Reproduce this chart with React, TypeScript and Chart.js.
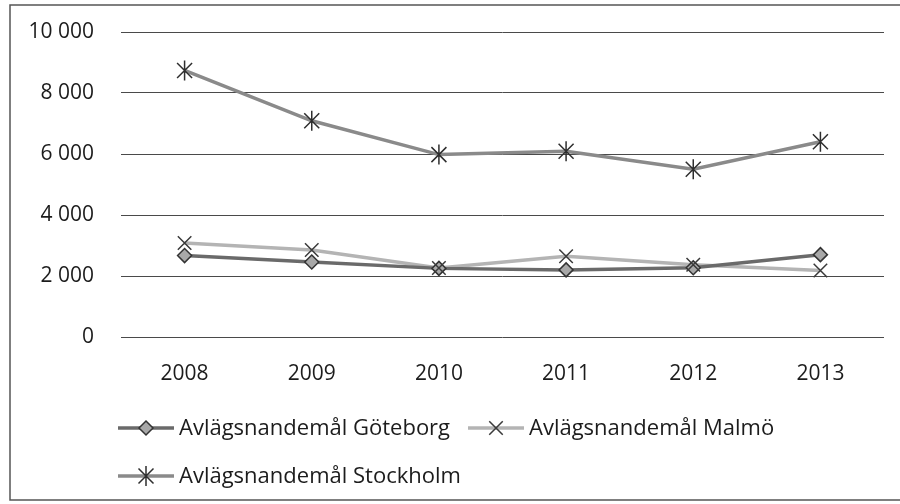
import React, { useEffect, useRef } from "react";
import { Chart, registerables } from "chart.js";

Chart.register(...registerables);

const categories = ["2008", "2009", "2010", "2011", "2012", "2013"];
const goteborg = [2670, 2460, 2250, 2200, 2270, 2700];
const malmo = [3080, 2850, 2260, 2650, 2370, 2180];
const stockholm = [8740, 7090, 5980, 6090, 5500, 6400];
const seriesNames = [
  "Avlägsnandemål Göteborg",
  "Avlägsnandemål Malmö",
  "Avlägsnandemål Stockholm",
];
const yTicks = [0, 2000, 4000, 6000, 8000, 10000];

const FONT = "'Open Sans', 'DejaVu Sans', sans-serif";
const TEXT = "#1c1c1c";

function fmt(v: number) {
  return String(v).replace(/\B(?=(\d{3})+(?!\d))/g, " ");
}

function drawMarker(ctx: CanvasRenderingContext2D, style: string, x: number, y: number, r: number, fill: string, stroke: string) {
  ctx.save();
  ctx.lineWidth = 1.5;
  ctx.strokeStyle = stroke;
  ctx.fillStyle = fill;
  ctx.beginPath();
  if (style === "rectRot") {
    ctx.moveTo(x, y - r);
    ctx.lineTo(x + r, y);
    ctx.lineTo(x, y + r);
    ctx.lineTo(x - r, y);
    ctx.closePath();
    ctx.fill();
    ctx.stroke();
  } else if (style === "crossRot") {
    const d = r * 0.75;
    ctx.moveTo(x - d, y - d);
    ctx.lineTo(x + d, y + d);
    ctx.moveTo(x + d, y - d);
    ctx.lineTo(x - d, y + d);
    ctx.stroke();
  } else {
    const d = r * 0.75;
    ctx.moveTo(x, y - r);
    ctx.lineTo(x, y + r);
    ctx.moveTo(x - d, y - d);
    ctx.lineTo(x + d, y + d);
    ctx.moveTo(x + d, y - d);
    ctx.lineTo(x - d, y + d);
    ctx.stroke();
  }
  ctx.restore();
}

const legendSlots = [
  { x: 118, y: 428 },
  { x: 468, y: 428 },
  { x: 118, y: 476 },
];

const framePlugin = {
  id: "frameAndLegend",
  beforeDraw(chart: any) {
    const ctx = chart.ctx as CanvasRenderingContext2D;
    ctx.save();
    ctx.fillStyle = "#ffffff";
    ctx.fillRect(0, 0, chart.width, chart.height);
    ctx.strokeStyle = "#555555";
    ctx.lineWidth = 1.5;
    ctx.strokeRect(10, 5, 900, 495);
    ctx.restore();
  },
  afterDraw(chart: any) {
    const ctx = chart.ctx as CanvasRenderingContext2D;
    chart.data.datasets.forEach((ds: any, i: number) => {
      const s = legendSlots[i];
      ctx.save();
      ctx.strokeStyle = ds.borderColor;
      ctx.lineWidth = ds.borderWidth;
      ctx.beginPath();
      ctx.moveTo(s.x, s.y);
      ctx.lineTo(s.x + 56, s.y);
      ctx.stroke();
      drawMarker(ctx, ds.pointStyle, s.x + 28, s.y, ds.pointRadius, ds.pointBackgroundColor, ds.pointBorderColor);
      ctx.fillStyle = TEXT;
      ctx.font = `22px ${FONT}`;
      ctx.textBaseline = "middle";
      ctx.textAlign = "left";
      ctx.fillText(ds.label, s.x + 61, s.y + 1);
      ctx.restore();
    });
  },
};

const markerPlugin = {
  id: "customMarkers",
  afterDatasetsDraw(chart: any) {
    const ctx = chart.ctx as CanvasRenderingContext2D;
    chart.data.datasets.forEach((ds: any, i: number) => {
      const meta = chart.getDatasetMeta(i);
      meta.data.forEach((pt: any) => {
        drawMarker(ctx, ds.pointStyle, pt.x, pt.y, ds.pointRadius, ds.pointBackgroundColor, ds.pointBorderColor);
      });
    });
  },
};

export default function App() {
  const ref = useRef<HTMLCanvasElement | null>(null);

  useEffect(() => {
    document.body.style.margin = "0";
    const canvas = ref.current;
    if (!canvas) return;
    const chart = new Chart(canvas, {
      type: "line",
      data: {
        labels: categories,
        datasets: [
          {
            label: seriesNames[0],
            data: goteborg,
            borderColor: "#6a6a6a",
            borderWidth: 3.5,
            pointStyle: "rectRot",
            pointRadius: 7,
            pointBackgroundColor: "#a8a8a8",
            pointBorderColor: "#333333",
            pointHoverRadius: 0,
            tension: 0,
          } as any,
          {
            label: seriesNames[1],
            data: malmo,
            borderColor: "#b4b4b4",
            borderWidth: 3.5,
            pointStyle: "crossRot",
            pointRadius: 9,
            pointBackgroundColor: "#b4b4b4",
            pointBorderColor: "#3a3a3a",
            pointHoverRadius: 0,
            tension: 0,
          } as any,
          {
            label: seriesNames[2],
            data: stockholm,
            borderColor: "#8a8a8a",
            borderWidth: 3.5,
            pointStyle: "star",
            pointRadius: 10,
            pointBackgroundColor: "#8a8a8a",
            pointBorderColor: "#2e2e2e",
            pointHoverRadius: 0,
            tension: 0,
          } as any,
        ],
      },
      options: {
        animation: false,
        responsive: false,
        events: [],
        layout: { padding: { left: 0, right: 16, top: 32, bottom: 0 } },
        plugins: {
          legend: { display: false },
          tooltip: { enabled: false },
        },
        scales: {
          x: {
            offset: true,
            grid: { display: false, drawTicks: false },
            border: { display: false },
            ticks: {
              color: TEXT,
              font: { family: FONT, size: 21 },
              padding: 24,
              maxRotation: 0,
            },
            afterFit: (scale: any) => {
              scale.height = 167;
            },
          },
          y: {
            min: 0,
            max: 10000,
            afterBuildTicks: (scale: any) => {
              scale.ticks = yTicks.map((v) => ({ value: v }));
            },
            grid: { color: "#4a4a4a", lineWidth: 1, drawTicks: false },
            border: { display: false },
            ticks: {
              color: TEXT,
              font: { family: FONT, size: 21 },
              padding: 27,
              callback: (v: any) => fmt(Number(v)),
            },
            afterFit: (scale: any) => {
              scale.width = 121;
              scale.paddingTop = 0;
              scale.paddingBottom = 0;
            },
          },
        },
      },
      plugins: [
        {
          id: "hideDefaultPoints",
          beforeDatasetsDraw(c: any) {
            c.data.datasets.forEach((_: any, i: number) => {
              c.getDatasetMeta(i).data.forEach((p: any) => {
                if (p.options) p.options.radius = 0;
              });
            });
          },
        },
        framePlugin,
        markerPlugin,
      ],
    });
    return () => chart.destroy();
  }, []);

  return (
    <div style={{ width: 900, height: 504, position: "relative" }}>
      <canvas ref={ref} width={900} height={504} />
    </div>
  );
}
